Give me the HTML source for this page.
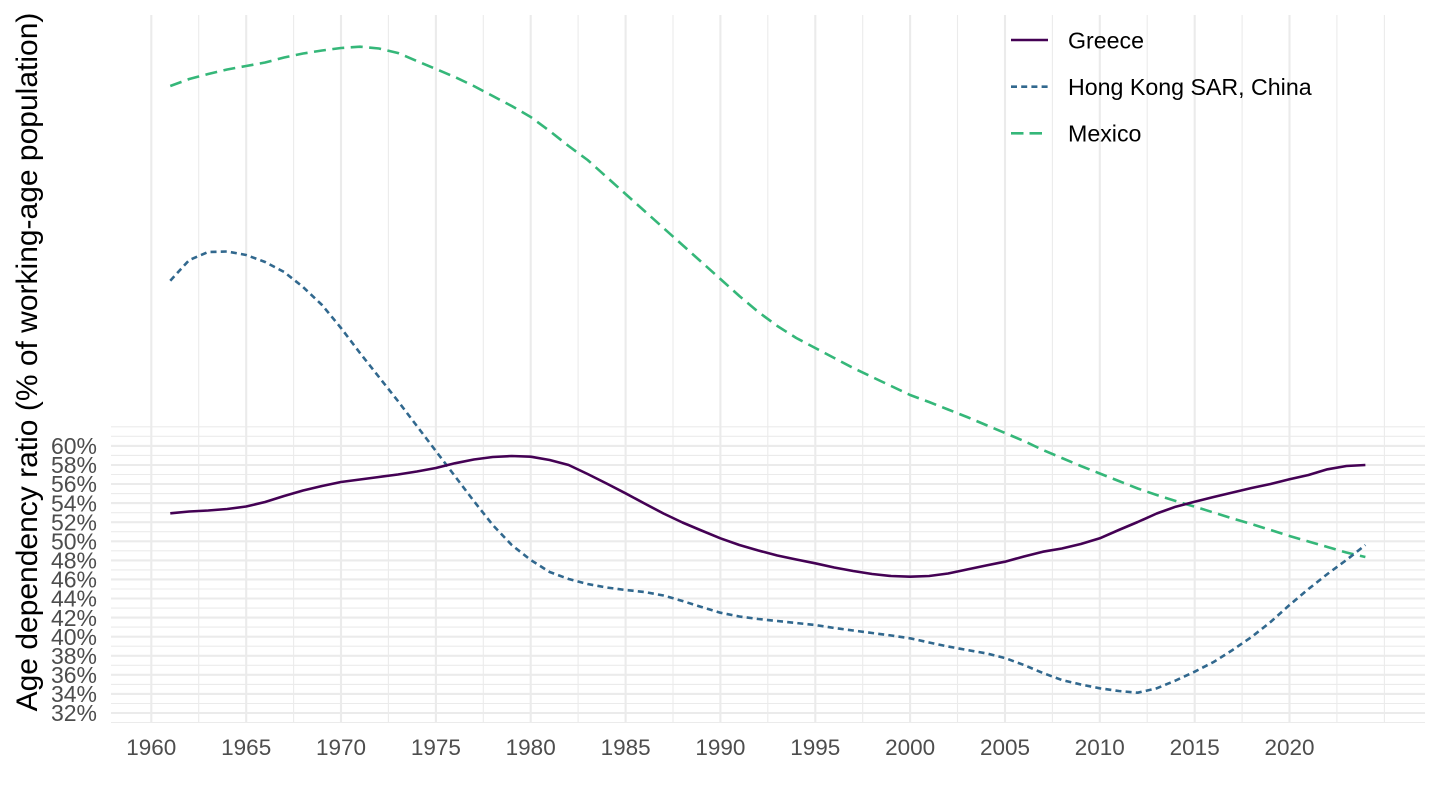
<!DOCTYPE html>
<html>
<head>
<meta charset="utf-8">
<style>
html,body{margin:0;padding:0;background:#fff;}
svg{display:block;}
text{font-family:"Liberation Sans",Arial,sans-serif;}
</style>
</head>
<body>
<svg width="1440" height="810" viewBox="0 0 1440 810" xmlns="http://www.w3.org/2000/svg">
<rect x="0" y="0" width="1440" height="810" fill="#fff"/>
<!-- minor horizontal gridlines -->
<g stroke="#EBEBEB" stroke-width="1.1" fill="none">
<line x1="111" x2="1425" y1="722.5" y2="722.5"/>
<line x1="111" x2="1425" y1="703.5" y2="703.5"/>
<line x1="111" x2="1425" y1="684.4" y2="684.4"/>
<line x1="111" x2="1425" y1="665.3" y2="665.3"/>
<line x1="111" x2="1425" y1="646.2" y2="646.2"/>
<line x1="111" x2="1425" y1="627.1" y2="627.1"/>
<line x1="111" x2="1425" y1="608.1" y2="608.1"/>
<line x1="111" x2="1425" y1="589.0" y2="589.0"/>
<line x1="111" x2="1425" y1="569.9" y2="569.9"/>
<line x1="111" x2="1425" y1="550.8" y2="550.8"/>
<line x1="111" x2="1425" y1="531.7" y2="531.7"/>
<line x1="111" x2="1425" y1="512.7" y2="512.7"/>
<line x1="111" x2="1425" y1="493.6" y2="493.6"/>
<line x1="111" x2="1425" y1="474.5" y2="474.5"/>
<line x1="111" x2="1425" y1="455.4" y2="455.4"/>
<line x1="111" x2="1425" y1="436.3" y2="436.3"/>
<line x1="111" x2="1425" y1="426.8" y2="426.8"/>
</g>
<!-- minor vertical gridlines -->
<g stroke="#EBEBEB" stroke-width="1.1" fill="none">
<line y1="15" y2="723" x1="198.7" x2="198.7"/>
<line y1="15" y2="723" x1="293.6" x2="293.6"/>
<line y1="15" y2="723" x1="388.4" x2="388.4"/>
<line y1="15" y2="723" x1="483.3" x2="483.3"/>
<line y1="15" y2="723" x1="578.1" x2="578.1"/>
<line y1="15" y2="723" x1="673.0" x2="673.0"/>
<line y1="15" y2="723" x1="767.8" x2="767.8"/>
<line y1="15" y2="723" x1="862.7" x2="862.7"/>
<line y1="15" y2="723" x1="957.5" x2="957.5"/>
<line y1="15" y2="723" x1="1052.4" x2="1052.4"/>
<line y1="15" y2="723" x1="1147.2" x2="1147.2"/>
<line y1="15" y2="723" x1="1242.1" x2="1242.1"/>
<line y1="15" y2="723" x1="1336.9" x2="1336.9"/>
<line y1="15" y2="723" x1="1384.4" x2="1384.4"/>
</g>
<!-- major horizontal gridlines -->
<g stroke="#EBEBEB" stroke-width="2.1" fill="none">
<line x1="111" x2="1425" y1="713.0" y2="713.0"/>
<line x1="111" x2="1425" y1="693.9" y2="693.9"/>
<line x1="111" x2="1425" y1="674.8" y2="674.8"/>
<line x1="111" x2="1425" y1="655.8" y2="655.8"/>
<line x1="111" x2="1425" y1="636.7" y2="636.7"/>
<line x1="111" x2="1425" y1="617.6" y2="617.6"/>
<line x1="111" x2="1425" y1="598.5" y2="598.5"/>
<line x1="111" x2="1425" y1="579.4" y2="579.4"/>
<line x1="111" x2="1425" y1="560.4" y2="560.4"/>
<line x1="111" x2="1425" y1="541.3" y2="541.3"/>
<line x1="111" x2="1425" y1="522.2" y2="522.2"/>
<line x1="111" x2="1425" y1="503.1" y2="503.1"/>
<line x1="111" x2="1425" y1="484.0" y2="484.0"/>
<line x1="111" x2="1425" y1="465.0" y2="465.0"/>
<line x1="111" x2="1425" y1="445.9" y2="445.9"/>
</g>
<!-- major vertical gridlines -->
<g stroke="#EBEBEB" stroke-width="2.1" fill="none">
<line y1="15" y2="723" x1="151.3" x2="151.3"/>
<line y1="15" y2="723" x1="246.2" x2="246.2"/>
<line y1="15" y2="723" x1="341.0" x2="341.0"/>
<line y1="15" y2="723" x1="435.9" x2="435.9"/>
<line y1="15" y2="723" x1="530.7" x2="530.7"/>
<line y1="15" y2="723" x1="625.6" x2="625.6"/>
<line y1="15" y2="723" x1="720.4" x2="720.4"/>
<line y1="15" y2="723" x1="815.3" x2="815.3"/>
<line y1="15" y2="723" x1="910.1" x2="910.1"/>
<line y1="15" y2="723" x1="1005.0" x2="1005.0"/>
<line y1="15" y2="723" x1="1099.8" x2="1099.8"/>
<line y1="15" y2="723" x1="1194.7" x2="1194.7"/>
<line y1="15" y2="723" x1="1289.5" x2="1289.5"/>
</g>

<!-- Mexico -->
<polyline fill="none" stroke="#35B779" stroke-width="2.6" stroke-dasharray="12,6.5" stroke-linejoin="round"
points="170.27,86 189.24,79 208.21,74 227.18,69.5 246.15,66 265.12,62.5 284.09,57.5 303.06,53.5 322.03,50.5 341,48 359.97,46.7 378.94,48.5 397.91,53 416.88,61 435.85,69 454.82,77 473.79,86 492.76,96 511.73,106 530.7,117 549.67,131 568.64,146 587.61,160 606.58,177 625.55,194 644.52,211 663.49,228 682.46,245 701.43,262 720.4,279 739.37,296 758.34,312 777.31,326 796.28,338 815.25,348 834.22,358 853.19,368 872.16,377 891.13,386 910.1,395 929.07,402 948.04,409.5 967.01,417 985.98,425 1004.95,433 1023.92,441 1042.89,450 1061.86,458 1080.83,466 1099.8,473.5 1118.77,481 1137.74,488.5 1156.71,495 1175.68,501 1194.65,506.7 1213.62,512.5 1232.59,518.5 1251.56,524 1270.53,530 1289.5,536 1308.47,541.5 1327.44,547 1346.41,552.5 1365.38,557"/>

<!-- Hong Kong -->
<polyline fill="none" stroke="#31688E" stroke-width="2.6" stroke-dasharray="6,4.2" stroke-linejoin="round"
points="170.27,280.7 189.24,260 208.21,252 227.18,251.5 246.15,255 265.12,262 284.09,272 303.06,287 322.03,305 341,328 359.97,353 378.94,377 397.91,401 416.88,426 435.85,451 454.82,476 473.79,501 492.76,525 511.73,545 530.7,560 549.67,572 568.64,579 587.61,584 606.58,587.5 625.55,590 644.52,592 663.49,595.5 682.46,601 701.43,607 720.4,612.7 739.37,616.5 758.34,619 777.31,621 796.28,623 815.25,625 834.22,628 853.19,630.5 872.16,633 891.13,635.5 910.1,638.3 929.07,642.5 948.04,646.5 967.01,650 985.98,653.3 1004.95,658 1023.92,665 1042.89,673 1061.86,680 1080.83,684.5 1099.8,688.3 1118.77,691 1137.74,692.7 1156.71,688.3 1175.68,680.5 1194.65,671.7 1213.62,662 1232.59,650 1251.56,637 1270.53,622 1289.5,605 1308.47,589 1327.44,574 1346.41,560 1365.38,545"/>

<!-- Greece -->
<polyline fill="none" stroke="#440154" stroke-width="2.6" stroke-linejoin="round"
points="170.27,513.3 189.24,511.5 208.21,510.5 227.18,509 246.15,506.5 265.12,502 284.09,496 303.06,490.5 322.03,486 341,482 359.97,479.5 378.94,477 397.91,474.5 416.88,471.5 435.85,468 454.82,463.3 473.79,459.5 492.76,457 511.73,456 530.7,456.7 549.67,460 568.64,465 587.61,474 606.58,483.5 625.55,493.3 644.52,503.5 663.49,513.5 682.46,522.5 701.43,530.5 720.4,538.3 739.37,545 758.34,550.5 777.31,555.5 796.28,559.5 815.25,563.3 834.22,567.5 853.19,571 872.16,574 891.13,576 910.1,576.7 929.07,576 948.04,573.5 967.01,569.5 985.98,565.5 1004.95,561.7 1023.92,556.5 1042.89,551.7 1061.86,548.5 1080.83,544 1099.8,538.3 1118.77,530 1137.74,522 1156.71,513.5 1175.68,506.7 1194.65,501.7 1213.62,497 1232.59,492.5 1251.56,488 1270.53,484 1289.5,479.3 1308.47,475 1327.44,469.3 1346.41,466 1365.38,465"/>

<!-- y tick labels -->
<g fill="#4D4D4D" font-size="23" text-anchor="end">
<text x="97" y="721.2">32%</text>
<text x="97" y="702.1">34%</text>
<text x="97" y="683.0">36%</text>
<text x="97" y="664.0">38%</text>
<text x="97" y="644.9">40%</text>
<text x="97" y="625.8">42%</text>
<text x="97" y="606.7">44%</text>
<text x="97" y="587.6">46%</text>
<text x="97" y="568.6">48%</text>
<text x="97" y="549.5">50%</text>
<text x="97" y="530.4">52%</text>
<text x="97" y="511.3">54%</text>
<text x="97" y="492.2">56%</text>
<text x="97" y="473.2">58%</text>
<text x="97" y="454.1">60%</text>
</g>
<!-- x tick labels -->
<g fill="#4D4D4D" font-size="22.5" text-anchor="middle">
<text x="151.3" y="755">1960</text>
<text x="246.2" y="755">1965</text>
<text x="341.0" y="755">1970</text>
<text x="435.9" y="755">1975</text>
<text x="530.7" y="755">1980</text>
<text x="625.6" y="755">1985</text>
<text x="720.4" y="755">1990</text>
<text x="815.3" y="755">1995</text>
<text x="910.1" y="755">2000</text>
<text x="1005.0" y="755">2005</text>
<text x="1099.8" y="755">2010</text>
<text x="1194.7" y="755">2015</text>
<text x="1289.5" y="755">2020</text>
</g>
<!-- y axis title -->
<text transform="translate(37,362) rotate(-90)" text-anchor="middle" font-size="30" fill="#000">Age dependency ratio (% of working-age population)</text>

<!-- legend -->
<line x1="1011" x2="1048" y1="40" y2="40" stroke="#440154" stroke-width="2.6"/>
<line x1="1011" x2="1048" y1="86.7" y2="86.7" stroke="#31688E" stroke-width="2.6" stroke-dasharray="6,4.2"/>
<line x1="1011" x2="1048" y1="133.3" y2="133.3" stroke="#35B779" stroke-width="2.6" stroke-dasharray="12.5,6"/>
<g fill="#000" font-size="23.2">
<text x="1068" y="48.3">Greece</text>
<text x="1068" y="95">Hong Kong SAR, China</text>
<text x="1068" y="141.6">Mexico</text>
</g>
</svg>
</body>
</html>
